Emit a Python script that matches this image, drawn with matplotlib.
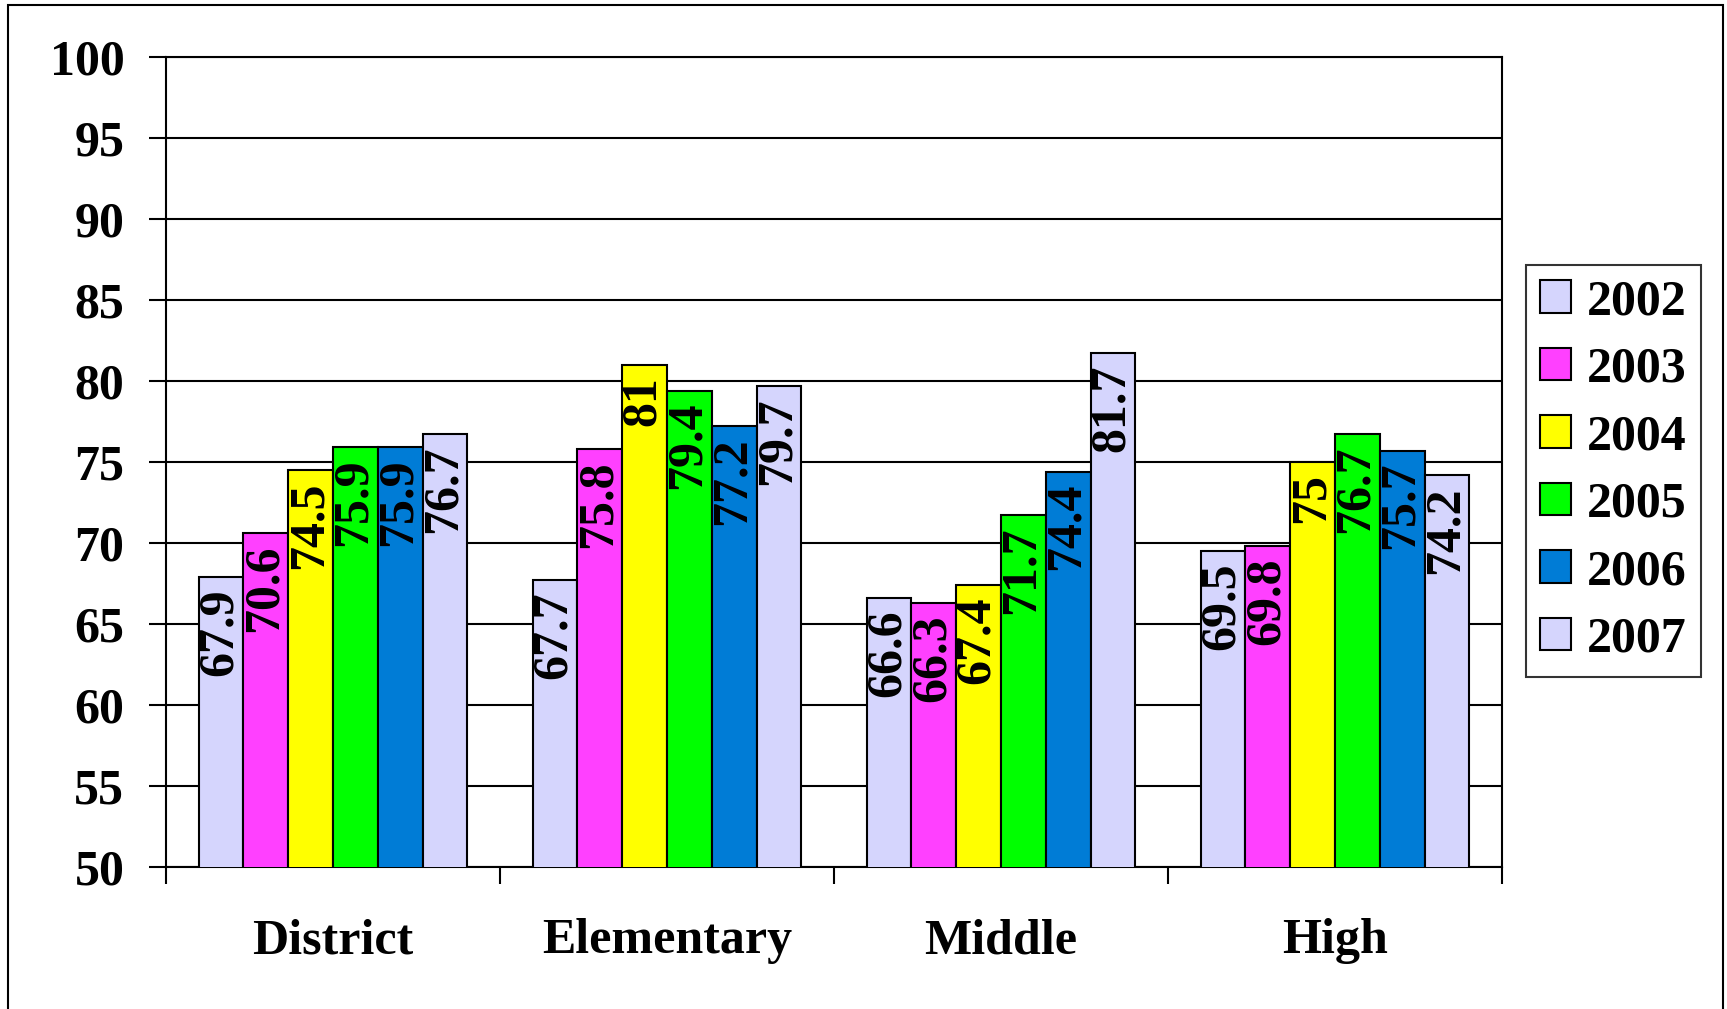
import matplotlib
matplotlib.use("Agg")
import matplotlib.pyplot as plt
import numpy as np
from matplotlib.patches import Rectangle
from matplotlib.ticker import FixedLocator, NullFormatter

categories = ["District", "Elementary", "Middle", "High"]
years = ["2002", "2003", "2004", "2005", "2006", "2007"]
values = {
    "2002": [67.9, 67.7, 66.6, 69.5],
    "2003": [70.6, 75.8, 66.3, 69.8],
    "2004": [74.5, 81, 67.4, 75],
    "2005": [75.9, 79.4, 71.7, 76.7],
    "2006": [75.9, 77.2, 74.4, 75.7],
    "2007": [76.7, 79.7, 81.7, 74.2],
}
colors = ["#D5D5FD", "#FF40FF", "#FFFF00", "#00FF00", "#007CD6", "#D5D5FD"]
yticks = list(range(50, 101, 5))

plt.rcParams["font.family"] = "Liberation Serif"
plt.rcParams["font.weight"] = "bold"

W, H = 1727, 1009
fig = plt.figure(figsize=(W / 100, H / 100), dpi=100)
ax = fig.add_axes([166 / W, 1 - 867 / H, (1502 - 166) / W, (867 - 57) / H])

# outer frame
fig.patches.append(Rectangle((8 / W, -0.05), (1723 - 8) / W, 1.05 - 5 / H,
                             transform=fig.transFigure, fill=False,
                             edgecolor="black", linewidth=1.5, zorder=0))

x = np.arange(len(categories))
n = len(years)
bw = 0.134
offsets = (np.arange(n) - (n - 1) / 2) * bw

for i, yr in enumerate(years):
    ax.bar(x + offsets[i], values[yr], width=bw, bottom=0,
           color=colors[i], edgecolor="black", linewidth=1.5,
           label=yr, zorder=3)
    for xi, v in zip(x + offsets[i], values[yr]):
        lab = f"{v:g}"
        ax.annotate(lab, (xi, v), xytext=(-1, -8), textcoords="offset points",
                    rotation=90, ha="center", va="top", fontsize=36,
                    fontweight="bold", color="black", zorder=4)

ax.set_ylim(50, 100)
ax.set_xlim(-0.5, len(categories) - 0.5)
ax.set_yticks(yticks)
ax.set_yticklabels([str(t) for t in yticks], fontsize=36, fontweight="bold")
ax.yaxis.grid(True, color="black", linewidth=1.5, zorder=1)
ax.set_axisbelow(True)
ax.tick_params(axis="y", length=12, width=1.5, pad=18, direction="out")

ax.set_xticks(x)
ax.set_xticklabels(categories, fontsize=36, fontweight="bold")
ax.tick_params(axis="x", which="major", length=0, pad=37)
ax.xaxis.set_minor_locator(FixedLocator(np.arange(-0.5, len(categories), 1.0)))
ax.xaxis.set_minor_formatter(NullFormatter())
ax.tick_params(axis="x", which="minor", length=12, width=1.5, direction="out")

for s in ax.spines.values():
    s.set_linewidth(1.5)
    s.set_color("black")

leg = ax.legend(loc="upper left", bbox_to_anchor=(1526 / W, 1 - 265 / H),
                bbox_transform=fig.transFigure, frameon=True, fancybox=False,
                edgecolor="black", prop={"size": 36, "weight": "bold"},
                handlelength=0.62, handleheight=0.62, handletextpad=0.32,
                labelspacing=0.43, borderpad=0.28, borderaxespad=0)
leg.get_frame().set_linewidth(1.5)

fig.savefig("out.png", dpi=100, facecolor="white")
